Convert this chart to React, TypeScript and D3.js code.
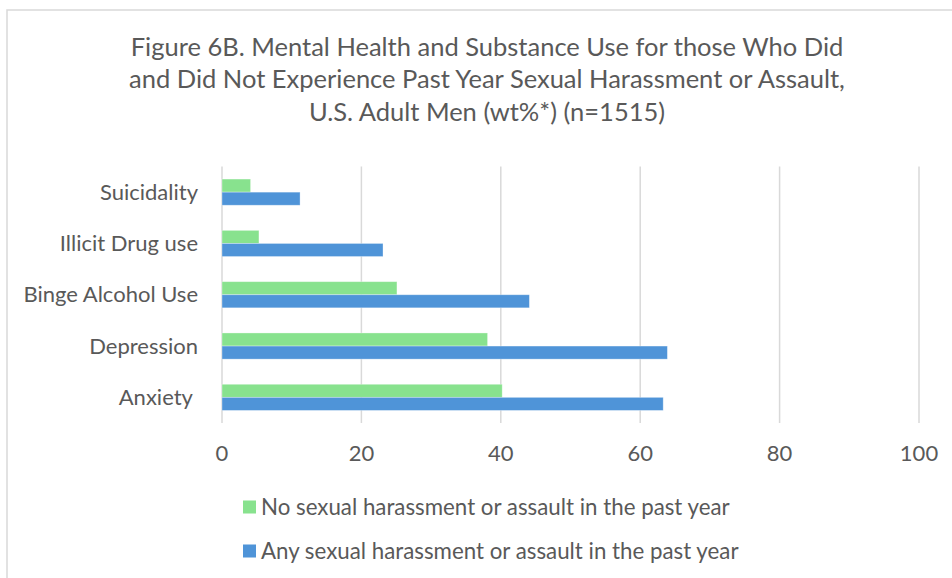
import React from "react";
import * as d3 from "d3";

const categories = ["Suicidality", "Illicit Drug use", "Binge Alcohol Use", "Depression", "Anxiety "];
const noHarassment = [4.1, 5.3, 25.1, 38.1, 40.2];
const anyHarassment = [11.2, 23.1, 44.1, 63.9, 63.3];
const seriesNames = [
  "No sexual harassment or assault in the past year",
  "Any sexual harassment or assault in the past year",
];
const xTicks = [0, 20, 40, 60, 80, 100];
const titleLines = [
  "Figure 6B. Mental Health and Substance Use for those Who Did",
  "and Did Not Experience Past Year Sexual Harassment or Assault,",
  "U.S. Adult Men (wt%*) (n=1515)",
];

const W = 952;
const H = 578;
const FONT = "Lato, 'Open Sans', sans-serif";
const TEXT = "#595959";
const GREEN = "#88e28e";
const BLUE = "#4f94d8";

export default function App() {
  const x = d3.scaleLinear().domain([0, 100]).range([222, 919]);
  const y = d3.scaleBand<string>().domain(categories).range([166.5, 423]).paddingInner(0.49).paddingOuter(0.245);
  const bh = y.bandwidth() / 2;
  const series = [noHarassment, anyHarassment];
  const colors = [GREEN, BLUE];

  return (
    <svg width={W} height={H} style={{ position: "absolute", left: 0, top: 0, background: "#fff" }} fontFamily={FONT}>
      <rect x={7} y={10} width={W + 20} height={H + 20} fill="#fff" stroke="#d9d9d9" strokeWidth={1.5} />
      {titleLines.map((t, i) => (
        <text key={i} x={487} y={47 + i * 32.5} dy="0.35em" textAnchor="middle" fontSize={25.5} fill={TEXT}>
          {t}
        </text>
      ))}
      {xTicks.map((t) => (
        <line key={t} x1={x(t)} x2={x(t)} y1={166.5} y2={423} stroke="#d9d9d9" strokeWidth={1.5} />
      ))}
      {categories.map((c, ci) =>
        series.map((s, si) => (
          <rect
            key={c + si}
            x={x(0)}
            y={(y(c) as number) + si * bh}
            width={x(s[ci]) - x(0)}
            height={bh}
            fill={colors[si]}
            stroke="#fff"
            strokeOpacity={0.4}
            strokeWidth={0.8}
          />
        ))
      )}
      {categories.map((c) => (
        <text
          key={c}
          x={198}
          y={(y(c) as number) + bh}
          dy="0.35em"
          textAnchor="end"
          fontSize={22}
          fill={TEXT}
          style={{ whiteSpace: "pre" }}
        >
          {c}
        </text>
      ))}
      {xTicks.map((t) => (
        <text key={t} x={x(t)} y={453} dy="0.35em" textAnchor="middle" fontSize={22} fill={TEXT}>
          {t}
        </text>
      ))}
      {seriesNames.map((n, i) => (
        <g key={n} transform={`translate(243, ${507 + i * 44})`}>
          <rect x={0} y={-6.5} width={13} height={13} fill={colors[i]} />
          <text x={18} y={0} dy="0.35em" fontSize={22.3} fill={TEXT}>
            {n}
          </text>
        </g>
      ))}
    </svg>
  );
}
